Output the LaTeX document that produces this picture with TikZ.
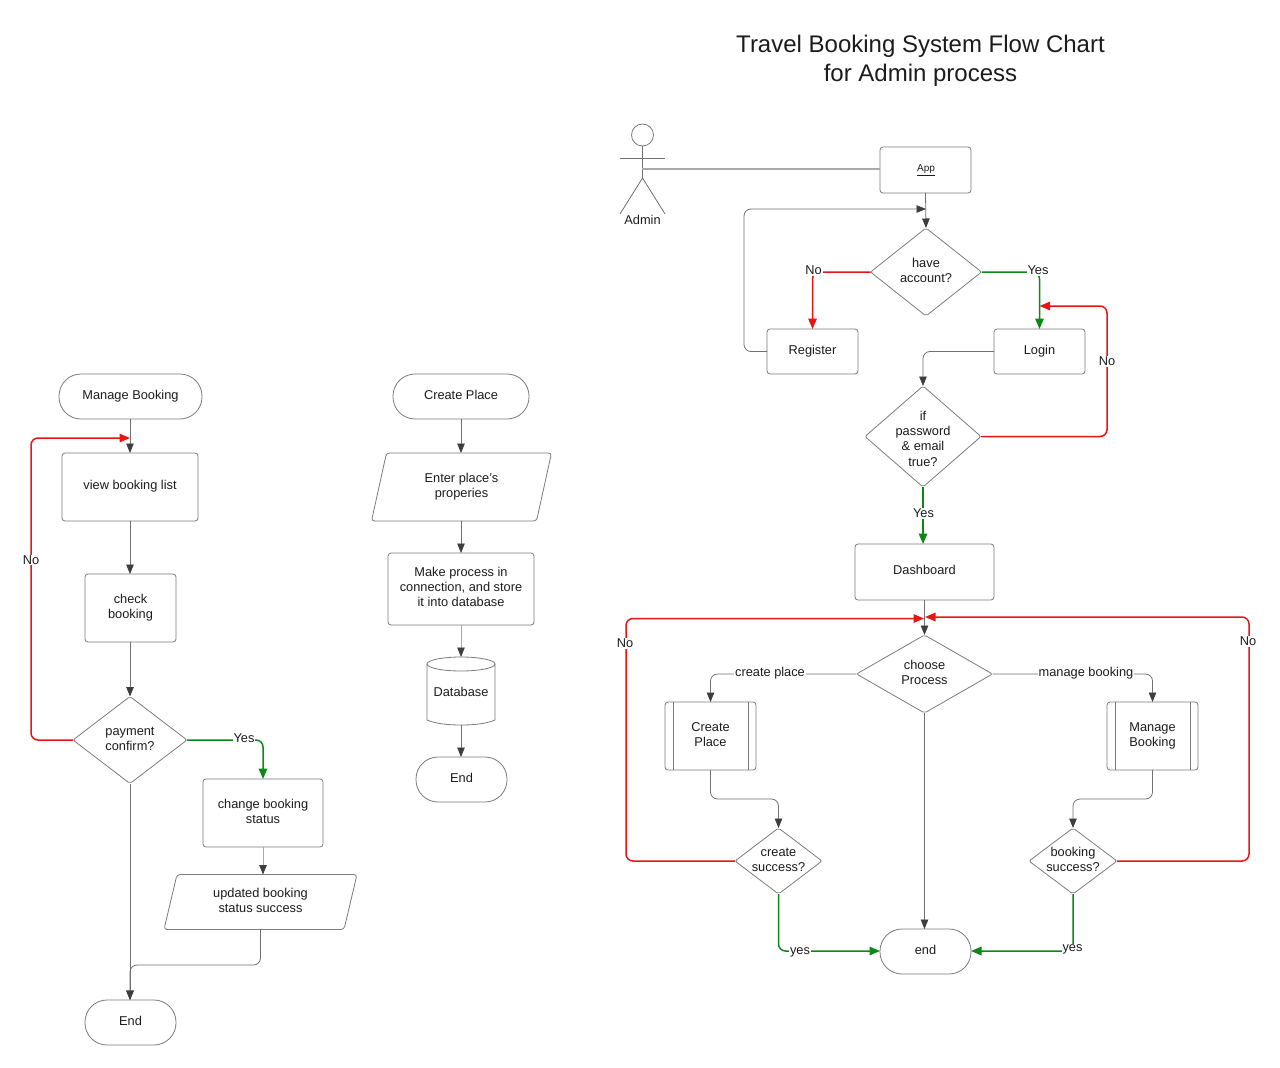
\documentclass[tikz,border=0pt]{standalone}
\usepackage{fontspec}
\setmainfont{Liberation Sans}
\usetikzlibrary{shapes.geometric,arrows.meta}
\definecolor{bord}{HTML}{7C7C7C}
\definecolor{wire}{HTML}{707070}
\definecolor{tipc}{HTML}{3E3E3E}
\definecolor{redl}{HTML}{E81515}
\definecolor{grnl}{HTML}{0A8A14}
\definecolor{inkc}{HTML}{1C1C1C}
\newcommand\ntx[2][1pt]{\raisebox{#1}{\vbox to 0pt{\vss\hbox to 0pt{\hss\parbox{220pt}{\centering\baselineskip=15.2pt\rule{0pt}{9.5pt}#2\rule[-3pt]{0pt}{3pt}\par}\hss}\vss}}}
\tikzset{
  base/.style={draw=bord,line width=.8pt,inner sep=0pt,outer sep=0pt,text=inkc,font=\fontsize{12.8}{15}\selectfont},
  box/.style={base,rectangle,rounded corners=3pt},
  stadium/.style={base,rectangle,rounded corners=22pt},
  dec/.style={base,diamond,rounded corners=2pt},
  plain/.style={base,rectangle,draw=none},
  outline/.style={draw=bord,line width=.8pt},
  wirel/.style={draw=wire,line width=.8pt,rounded corners=7pt},
  arr/.style={wirel,-{Triangle[length=9.5pt,width=7.5pt,color=tipc]}},
  noarr/.style={draw=redl,line width=1.5pt,rounded corners=7pt,-{Triangle[length=10.5pt,width=8.5pt,color=redl]}},
  yesarr/.style={draw=grnl,line width=1.5pt,rounded corners=7pt,-{Triangle[length=10.5pt,width=8.5pt,color=grnl]}},
  lab/.style={fill=white,inner sep=1pt,text=inkc,font=\fontsize{12.8}{15}\selectfont},
}
\begin{document}
\begin{tikzpicture}[x=1pt,y=-1pt]
\useasboundingbox (0,0) rectangle (1280,1068);
\fill[white] (0,0) rectangle (1280,1068);

% title
\node[text=inkc,font=\fontsize{24}{29}\selectfont,align=center] (title) at (920.5,61) {Travel Booking System Flow Chart\\for Admin process};

% ---------- left: Manage Booking
\node[stadium,minimum width=143pt,minimum height=45pt] (mb) at (130.5,396.5) {\ntx{Manage Booking}};
\node[box,minimum width=136pt,minimum height=68pt] (vb) at (130,487) {\ntx{view booking list}};
\node[box,minimum width=91pt,minimum height=68pt] (cb) at (130.5,608) {\ntx{check\\booking}};
\node[dec,aspect=1.31,minimum width=114pt,minimum height=87pt] (pay) at (130,740) {\ntx{payment\\confirm?}};
\node[box,minimum width=120pt,minimum height=68pt] (chg) at (263,813) {\ntx{change booking\\status}};
\node[plain,minimum width=193pt,minimum height=55pt] (upd) at (260.5,902) {\ntx{updated booking\\status success}};
\draw[outline,rounded corners=3pt] ([xshift=13pt]upd.north west) -- (upd.north east) -- ([xshift=-13pt]upd.south east) -- (upd.south west) -- cycle;
\node[stadium,minimum width=91pt,minimum height=45pt] (e1) at (130.5,1022.5) {\ntx{End}};

\coordinate (vbin) at (130,438);
\draw[arr] (mb.south -| vb.north) -- (vb.north);
\draw[arr] (vb.south) -- (vb.south |- cb.north);
\draw[arr] (vb.south |- cb.south) -- (pay.north);
\draw[yesarr] (pay.east) -- (chg.north |- pay.east) -- (chg.north);
\draw[noarr] (pay.west) -- (31,740) -- (31,438) -- (vbin);
\draw[arr] (pay.south) -- (pay.south |- e1.north);
\draw[arr,draw=wire!60] (chg.south) -- (chg.south |- upd.north);
\draw[wirel,-{Triangle[length=9.5pt,width=7.5pt,color=tipc]}] (upd.south) -- (260.5,965) -- (130,965) -- (pay.south |- e1.north);
\node[lab] (lno1) at (31,560) {No};
\node[lab] (lyes1) at (244,738.5) {Yes};

% ---------- middle: Create Place
\node[stadium,minimum width=136pt,minimum height=45pt] (cp0) at (461,396.5) {\ntx{Create Place}};
\node[plain,minimum width=180pt,minimum height=68pt] (ent) at (461.5,487) {\ntx[0pt]{Enter place's\\properies}};
\draw[outline,rounded corners=3pt] ([xshift=15pt]ent.north west) -- (ent.north east) -- ([xshift=-15pt]ent.south east) -- (ent.south west) -- cycle;
\node[box,minimum width=146pt,minimum height=72pt] (mk) at (461,589) {\ntx{Make process in\\connection, and store\\it into database}};
\node[plain,minimum width=68pt,minimum height=68pt] (db) at (461,691) {\ntx[-4pt]{Database}};
\draw[outline] ([yshift=-7pt]db.north west) -- ([yshift=5pt]db.south west) .. controls ([xshift=8pt,yshift=1.5pt]db.south west) and ([xshift=-14pt]db.south) .. (db.south) .. controls ([xshift=14pt]db.south) and ([xshift=-8pt,yshift=1.5pt]db.south east) .. ([yshift=5pt]db.south east) -- ([yshift=-7pt]db.north east);
\draw[outline] (db.north |- 0,664) ellipse [x radius=34pt,y radius=7pt];
\node[stadium,minimum width=91pt,minimum height=45pt] (e2) at (461.5,779.5) {\ntx{End}};

\draw[arr] (cp0.south) -- (ent.north -| cp0.south);
\draw[arr] (ent.south -| mk.north) -- (mk.north);
\draw[arr,draw=wire!60] (mk.south) -- (db.north);
\draw[arr] (db.south) -- (db.south |- e2.north);

% ---------- right: Admin process
\coordinate (head) at (642.5,135);
\draw[outline] (head) circle [radius=11pt];
\draw[wire,line width=.8pt] (642.5,146) -- (642.5,178) coordinate (hip);
\draw[wire,line width=.8pt] (620,158) -- (665,158);
\draw[wire,line width=.8pt] (620,214) -- (hip) -- (665,214);
\node[lab,fill=none] (adm) at (642.5,220) {Admin};

\node[box,minimum width=91pt,minimum height=46pt] (app) at (925.5,170) {};
\node[inner sep=0pt,text=inkc,font=\fontsize{10}{12}\selectfont] (apptext) at (926,170) {\underline{App}};
\draw[draw=wire!60,line width=1.1pt] (642,169) -- (app.west |- 0,169);

\node[dec,aspect=1.27,minimum width=111pt,minimum height=88pt] (hav) at (926,272) {\ntx{have\\account?}};
\node[box,minimum width=91pt,minimum height=45pt] (reg) at (812.5,351.5) {\ntx{Register}};
\node[box,minimum width=91pt,minimum height=45pt] (log) at (1039.5,351.5) {\ntx{Login}};
\node[dec,aspect=1.16,minimum width=116pt,minimum height=101pt] (pw) at (923,436.5) {\ntx[-7pt]{if\\password\\\& email\\true?}};
\node[box,minimum width=139pt,minimum height=56pt] (dash) at (924.5,572) {\ntx{Dashboard}};
\node[dec,aspect=1.76,minimum width=136pt,minimum height=78pt] (ch) at (924.5,674) {\ntx{choose\\Process}};
\node[box,minimum width=91pt,minimum height=68pt] (scp) at (710.5,736) {\ntx[0pt]{Create\\Place}};
\node[box,minimum width=91pt,minimum height=68pt] (smb) at (1152.5,736) {\ntx[0pt]{Manage\\Booking}};
\draw[outline] ([xshift=8pt]scp.north west) -- ([xshift=8pt]scp.south west);
\draw[outline] ([xshift=-8pt]scp.north east) -- ([xshift=-8pt]scp.south east);
\draw[outline] ([xshift=8pt]smb.north west) -- ([xshift=8pt]smb.south west);
\draw[outline] ([xshift=-8pt]smb.north east) -- ([xshift=-8pt]smb.south east);
\node[dec,aspect=1.32,minimum width=87pt,minimum height=66pt] (cs) at (778.5,861) {\ntx{create\\success?}};
\node[dec,aspect=1.32,minimum width=88pt,minimum height=66pt] (bs) at (1073,861) {\ntx{booking\\success?}};
\node[stadium,minimum width=91pt,minimum height=45pt] (end) at (925.5,951.5) {\ntx{end}};

\coordinate (havin) at (926,209);
\coordinate (login) at (1039.5,306);
\coordinate (chinl) at (924,618.5);
\coordinate (chinr) at (925,617);

\draw[arr] (app.south) -- (hav.north);
\draw[arr] (reg.west) -- (744,351.5) -- (744,209) -- (havin);
\draw[noarr] (hav.west) -- (reg.north |- hav.west) -- (reg.north);
\draw[yesarr] (hav.east) -- (log.north |- hav.east) -- (log.north);
\draw[arr] (log.west) -- (pw.north |- log.west) -- (pw.north);
\draw[noarr] (pw.east) -- (1107,436.5) -- (1107,306) -- (login);
\draw[yesarr] (pw.south) -- (pw.south |- dash.north);
\draw[arr] (dash.south) -- (ch.north);
\draw[arr] (ch.west) -- (scp.north |- ch.west) -- (scp.north);
\draw[arr] (ch.east) -- (smb.north |- ch.east) -- (smb.north);
\draw[arr] (ch.south) -- (ch.south |- end.north);
\draw[arr] (scp.south) -- (710.5,799) -- (778.5,799) -- (cs.north);
\draw[arr] (smb.south) -- (1152.5,799) -- (1073,799) -- (bs.north);
\draw[noarr] (cs.west) -- (626,861) -- (626,618.5) -- (chinl);
\draw[noarr] (bs.east) -- (1249,861) -- (1249,617) -- (chinr);
\draw[yesarr] (cs.south) -- (778.5,951) -- (end.west |- 0,951);
\draw[yesarr] (bs.south) -- (1073,951) -- (end.east |- 0,951);

\node[lab] (lno2) at (813.5,270.5) {No};
\node[lab] (lyes2) at (1038,270.5) {Yes};
\node[lab] (lno3) at (1107,361.5) {No};
\node[lab] (lyes3) at (923.5,513.5) {Yes};
\node[lab] (lcp) at (770,673) {create place};
\node[lab] (lmb) at (1086,673) {manage booking};
\node[lab] (lno4) at (625,643.5) {No};
\node[lab] (lno5) at (1248,641.5) {No};
\node[lab] (lyes4) at (800,952) {yes};
\node[lab] (lyes5) at (1072.5,949.5) {yes};
\end{tikzpicture}
\end{document}
